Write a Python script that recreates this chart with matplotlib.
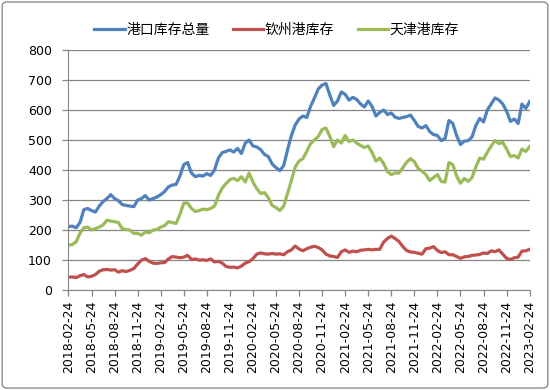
import numpy as np
import matplotlib.pyplot as plt
from matplotlib.patches import FancyBboxPatch

plt.rcParams['font.family'] = ['Noto Sans CJK SC', 'DejaVu Sans']

# months since 2018-02-24, half-month steps
months = np.arange(0, 60.5, 0.5)

total = [212, 213, 208, 225, 268, 272, 265, 260, 280, 295, 305, 318, 305, 298, 285, 282, 280, 278, 300, 305, 315, 300, 305, 310, 318,
         328, 344, 350, 352, 380, 418, 425, 390, 378, 382, 380, 388, 382, 400, 440, 458, 462, 467, 460, 472, 455, 490, 500, 480,
         477, 468, 452, 445, 420, 408, 398, 415, 467, 515, 550, 570, 580, 575, 612, 640, 670, 683, 688, 650, 615, 630, 660, 652, 633,
         642, 635, 620, 610, 630, 612, 580, 592, 600, 585, 590, 576, 572, 575, 578, 583, 565, 545, 540, 548, 528, 518, 515, 498, 505,
         565, 555, 515, 485, 496, 498, 510, 548, 572, 560, 600, 620, 640, 633, 620, 596, 562, 570, 555, 620, 605, 628]

qinzhou = [43, 44, 42, 48, 52, 44, 46, 52, 63, 68, 69, 67, 68, 60, 65, 62, 66, 72, 87, 100, 105, 96, 90, 89, 91,
           92, 104, 112, 110, 108, 110, 116, 102, 104, 100, 101, 99, 104, 94, 96, 90, 79, 76, 77, 74, 80, 90, 95, 105,
           120, 124, 121, 120, 122, 120, 121, 118, 128, 134, 147, 137, 131, 138, 143, 146, 142, 134, 120, 114, 112, 109, 128, 134, 126,
           130, 128, 133, 134, 136, 134, 136, 136, 160, 172, 180, 172, 162, 145, 132, 127, 126, 123, 120, 138, 140, 145, 132, 125, 128,
           118, 118, 112, 106, 111, 112, 116, 117, 119, 124, 122, 131, 128, 134, 120, 106, 102, 108, 110, 130, 131, 136]

tianjin = [150, 152, 161, 190, 208, 210, 200, 205, 210, 217, 233, 230, 228, 225, 205, 202, 200, 189, 189, 183, 194, 191, 200, 202, 210,
           215, 228, 225, 222, 252, 290, 290, 272, 262, 265, 270, 268, 272, 280, 315, 340, 355, 368, 372, 365, 378, 360, 390, 360,
           338, 322, 325, 308, 282, 275, 265, 280, 322, 365, 410, 430, 438, 462, 488, 500, 512, 535, 540, 512, 478, 500, 490, 515, 495,
           500, 490, 482, 475, 480, 458, 430, 440, 422, 395, 385, 390, 390, 408, 426, 438, 428, 405, 396, 385, 365, 375, 385, 362, 360,
           425, 418, 380, 356, 372, 362, 375, 410, 440, 436, 460, 480, 498, 488, 492, 470, 445, 448, 440, 470, 462, 478]

tick_labels = ['2018-02-24', '2018-05-24', '2018-08-24', '2018-11-24', '2019-02-24', '2019-05-24', '2019-08-24',
               '2019-11-24', '2020-02-24', '2020-05-24', '2020-08-24', '2020-11-24', '2021-02-24', '2021-05-24',
               '2021-08-24', '2021-11-24', '2022-02-24', '2022-05-24', '2022-08-24', '2022-11-24', '2023-02-24']

fig = plt.figure(figsize=(5.5, 3.9), dpi=100)
ax = fig.add_axes([0.1245, 0.256, 0.8385, 0.616])

# chart border
fig.patches.append(FancyBboxPatch((0.004, 0.005), 0.992, 0.99, boxstyle='round,pad=0,rounding_size=0.01',
                                  transform=fig.transFigure, fill=False, edgecolor='#8c8c8c', linewidth=1))

ax.plot(months, total, color='#4F81BD', lw=2.3, label='港口库存总量')
ax.plot(months, qinzhou, color='#C0504D', lw=2.3, label='钦州港库存')
ax.plot(months, tianjin, color='#9BBB59', lw=2.3, label='天津港库存')

ax.set_ylim(0, 800)
ax.set_yticks(range(0, 801, 100))
ax.set_xlim(0, 60)
ax.set_xticks(np.arange(0, 61, 3))
ax.set_xticklabels(tick_labels, rotation=90, family='DejaVu Sans', fontsize=9)
for lab in ax.get_yticklabels():
    lab.set_family('DejaVu Sans')
    lab.set_fontsize(9)

ax.grid(axis='y', color='#868686', lw=0.9)
ax.set_axisbelow(True)
for s in ['top', 'right']:
    ax.spines[s].set_visible(False)
for s in ['left', 'bottom']:
    ax.spines[s].set_color('#868686')
ax.tick_params(axis='both', color='#868686', length=4, width=0.9)
ax.tick_params(axis='y', pad=8)

fig.legend(loc='center', bbox_to_anchor=(0.503, 0.923), ncol=3, frameon=False, fontsize=10,
           handlelength=2.2, handletextpad=0.1, columnspacing=1.7)

plt.savefig('out.png', dpi=100)
